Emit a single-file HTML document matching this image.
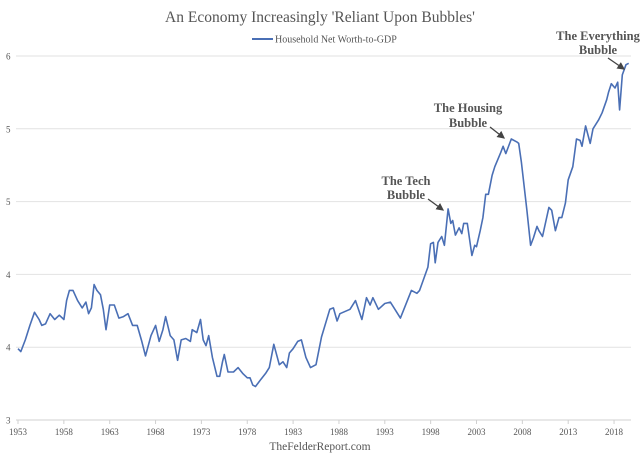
<!DOCTYPE html>
<html><head><meta charset="utf-8"><style>
html,body{margin:0;padding:0;background:#fff;}
svg{display:block;font-family:"Liberation Serif",serif;}
</style></head><body>
<svg id="chart" width="640" height="463" viewBox="0 0 640 463">
<text x="320" y="22" text-anchor="middle" font-size="15.5" fill="#555">An Economy Increasingly 'Reliant Upon Bubbles'</text>
<g>
<line x1="252" y1="39" x2="273" y2="39" stroke="#4a6fb5" stroke-width="2"/>
<text x="275" y="42.5" font-size="10" fill="#555">Household Net Worth-to-GDP</text>
</g>
<g id="grid"></g>
<g id="xaxis"></g>
<path id="series" fill="none" stroke="#4a6fb5" stroke-width="1.6" stroke-linejoin="round"/>
<g font-weight="bold" font-size="12.5" fill="#555" text-anchor="middle">
<text x="598" y="40">The Everything</text>
<text x="598" y="54">Bubble</text>
<text x="468" y="112">The Housing</text>
<text x="468" y="127">Bubble</text>
<text x="406" y="185">The Tech</text>
<text x="406" y="199">Bubble</text>
</g>
<defs><marker id="ah" markerWidth="6" markerHeight="6" refX="5" refY="3" orient="auto"><path d="M0,0 L6,3 L0,6 z" fill="#444"/></marker></defs>
<g stroke="#444" stroke-width="1.3" marker-end="url(#ah)">
<line x1="608" y1="58" x2="624" y2="69"/>
<line x1="490" y1="127" x2="504" y2="138"/>
<line x1="428" y1="199" x2="443" y2="210"/>
</g>
<text x="320" y="450" text-anchor="middle" font-size="11.5" fill="#555">TheFelderReport.com</text>
</svg>
<script>
const years=[1953.0,1953.3,1953.8,1954.3,1954.8,1955.3,1955.6,1956.0,1956.5,1957.0,1957.5,1958.0,1958.3,1958.6,1959.0,1959.5,1960.0,1960.4,1960.7,1961.0,1961.3,1961.6,1962.0,1962.3,1962.6,1963.0,1963.5,1964.0,1964.5,1965.0,1965.5,1966.0,1966.5,1966.9,1967.5,1968.0,1968.4,1968.8,1969.1,1969.6,1970.0,1970.4,1970.8,1971.3,1971.8,1972.0,1972.5,1972.9,1973.2,1973.5,1973.8,1974.2,1974.7,1975.0,1975.3,1975.5,1975.9,1976.5,1977.0,1977.5,1978.0,1978.3,1978.6,1978.9,1979.5,1980.0,1980.4,1980.9,1981.5,1981.9,1982.3,1982.6,1983.0,1983.5,1983.9,1984.4,1984.9,1985.5,1986.1,1987.0,1987.4,1987.8,1988.1,1989.2,1989.8,1990.5,1991.0,1991.4,1991.7,1992.3,1993.0,1993.6,1993.9,1994.7,1995.9,1996.5,1996.8,1997.7,1998.0,1998.3,1998.5,1998.8,1999.0,1999.2,1999.5,1999.9,2000.2,2000.4,2000.7,2001.1,2001.4,2001.6,2002.0,2002.5,2002.8,2003.0,2003.4,2003.7,2004.0,2004.3,2004.7,2005.0,2005.6,2005.9,2006.2,2006.8,2007.4,2007.6,2007.9,2008.5,2008.9,2009.2,2009.6,2009.8,2010.2,2010.9,2011.2,2011.6,2012.0,2012.3,2012.7,2013.0,2013.5,2013.9,2014.3,2014.5,2014.9,2015.4,2015.7,2016.3,2016.7,2017.2,2017.4,2017.7,2018.1,2018.4,2018.6,2018.9,2019.3,2019.6];
const values=[3.49,3.47,3.55,3.65,3.74,3.69,3.65,3.66,3.73,3.69,3.72,3.69,3.82,3.89,3.89,3.82,3.77,3.81,3.73,3.77,3.93,3.89,3.86,3.76,3.62,3.79,3.79,3.70,3.71,3.73,3.65,3.65,3.54,3.44,3.58,3.65,3.54,3.62,3.71,3.58,3.55,3.41,3.55,3.56,3.54,3.62,3.60,3.69,3.55,3.51,3.58,3.43,3.30,3.30,3.40,3.45,3.33,3.33,3.36,3.32,3.29,3.29,3.24,3.23,3.28,3.32,3.36,3.52,3.38,3.40,3.36,3.46,3.49,3.54,3.55,3.43,3.36,3.38,3.57,3.76,3.77,3.68,3.73,3.76,3.82,3.69,3.84,3.79,3.84,3.76,3.80,3.81,3.78,3.70,3.89,3.87,3.89,4.05,4.21,4.22,4.08,4.22,4.24,4.26,4.20,4.45,4.35,4.37,4.27,4.32,4.28,4.35,4.35,4.13,4.20,4.19,4.30,4.39,4.55,4.55,4.68,4.74,4.83,4.88,4.83,4.93,4.91,4.90,4.77,4.44,4.20,4.25,4.33,4.30,4.26,4.46,4.44,4.30,4.39,4.39,4.49,4.65,4.74,4.93,4.92,4.88,5.02,4.90,5.00,5.06,5.11,5.20,5.25,5.31,5.28,5.32,5.13,5.37,5.44,5.45];
const yTicks=[3,3.5,4,4.5,5,5.5];
const yTickLabels=["3","4","4","5","5","6"];
const xTicks=[1953,1958,1963,1968,1973,1978,1983,1988,1993,1998,2003,2008,2013,2018];
const X=y=>18+(y-1953)*9.17;
const Y=v=>420-(v-3)*145.6;
const NS="http://www.w3.org/2000/svg";
const grid=document.getElementById('grid');
yTicks.forEach((t,i)=>{
  const l=document.createElementNS(NS,'line');
  l.setAttribute('x1',16);l.setAttribute('x2',631);l.setAttribute('y1',Y(t));l.setAttribute('y2',Y(t));
  l.setAttribute('stroke',i===0?'#d0d0d0':'#e2e2e2');l.setAttribute('stroke-width','1');
  
  
  grid.appendChild(l);
  const tx=document.createElementNS(NS,'text');
  tx.setAttribute('x',6);tx.setAttribute('y',Y(t)+3.5);tx.setAttribute('font-size','9');tx.setAttribute('fill','#555');
  tx.textContent=yTickLabels[i];
  
  
  grid.appendChild(tx);
});
const xa=document.getElementById('xaxis');
xTicks.forEach(t=>{
  const tk=document.createElementNS(NS,'line');
  tk.setAttribute('x1',X(t));tk.setAttribute('x2',X(t));tk.setAttribute('y1',420);tk.setAttribute('y2',424);
  tk.setAttribute('stroke','#d0d0d0');
  
  
  xa.appendChild(tk);
  const tx=document.createElementNS(NS,'text');
  tx.setAttribute('x',X(t));tx.setAttribute('y',435);tx.setAttribute('font-size','9');tx.setAttribute('fill','#555');tx.setAttribute('text-anchor','middle');
  tx.textContent=t;
  
  
  xa.appendChild(tx);
});
document.getElementById('series').setAttribute('d',years.map((y,i)=>(i?'L':'M')+X(y).toFixed(1)+','+Y(values[i]).toFixed(1)).join(' '));
</script>
</body></html>
